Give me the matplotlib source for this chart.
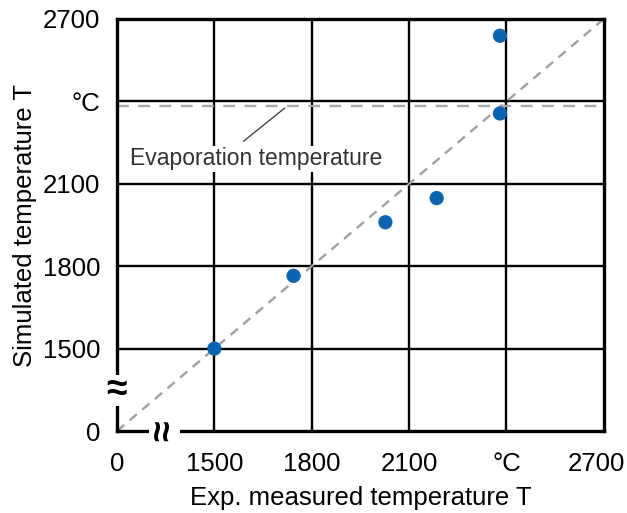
import matplotlib.pyplot as plt
import matplotlib.transforms as mtransforms
import numpy as np

plt.rcParams['font.family'] = ['Liberation Sans', 'DejaVu Sans']

# measured vs simulated temperature (deg C), axis broken between 0 and 1500
measured = [1500, 1744, 2027, 2185, 2380, 2380]
simulated = [1500, 1765, 1960, 2048, 2356, 2639]
evap_temp = 2385

tick_pos = [1200, 1500, 1800, 2100, 2400, 2700]
tick_labels = ['0', '1500', '1800', '2100', '°C', '2700']

fig = plt.figure(figsize=(6.27, 5.13), dpi=100)
ax = fig.add_axes([0.1866, 0.1598, 0.7764, 0.8032])

ax.set_xlim(1200, 2700)
ax.set_ylim(1200, 2700)

# grid
for v in tick_pos[1:-1]:
    ax.axvline(v, color='black', lw=1.7, zorder=1)
    ax.axhline(v, color='black', lw=1.7, zorder=1)

# 1:1 line and evaporation temperature
ax.plot([1200, 2700], [1200, 2700], color='#a0a0a0', lw=1.7,
        dashes=(4, 3), zorder=2)
ax.plot([1200, 2680], [evap_temp, evap_temp], color='#a8a8a8', lw=1.7,
        dashes=(5, 4), zorder=2)

ax.scatter(measured, simulated, s=105, color='#0a64b4', zorder=3,
           edgecolors='none')

ax.plot([1716, 1590], [2375, 2255], color='#333333', lw=0.9)
ax.text(1630, 2191, 'Evaporation temperature', fontsize=16.5,
        ha='center', va='center', color='#333333',
        bbox=dict(facecolor='white', edgecolor='none', pad=1))

for s in ax.spines.values():
    s.set_linewidth(2.4)

ax.set_xticks(tick_pos)
ax.set_xticklabels(tick_labels)
ax.set_yticks(tick_pos)
ax.set_yticklabels(tick_labels)
ax.tick_params(length=0, labelsize=18.5)
ax.tick_params(axis='x', pad=15)
ax.tick_params(axis='y', pad=12)

# pull the last x label inside the figure like the reference
last = ax.get_xticklabels()[-1]
last.set_transform(last.get_transform() +
                   mtransforms.ScaledTranslation(-0.07, 0, fig.dpi_scale_trans))

# axis break marks
ax.text(1200, 1348, '≈', fontsize=27, ha='center', va='center',
        fontweight='bold', clip_on=False, zorder=5,
        bbox=dict(facecolor='white', edgecolor='none', pad=-2))
ax.text(1347, 1200, '≈', fontsize=27, ha='center', va='center',
        rotation=90, fontweight='bold', clip_on=False, zorder=5,
        bbox=dict(facecolor='white', edgecolor='none', pad=-2))

ax.set_xlabel('Exp. measured temperature T', fontsize=18.5, labelpad=7)
ax.set_ylabel('Simulated temperature T', fontsize=18.5, labelpad=4)

fig.savefig('out.png', dpi=100)
